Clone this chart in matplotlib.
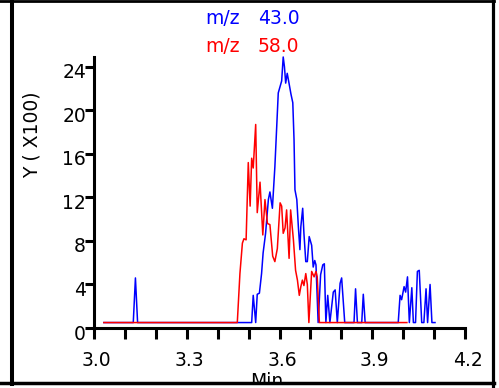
import matplotlib
matplotlib.use("Agg")
import matplotlib.pyplot as plt
from matplotlib.lines import Line2D
import matplotlib.transforms as mtransforms

# ---- data ----
blue_t = [3.032, 3.127, 3.134, 3.141, 3.510, 3.515, 3.523, 3.528, 3.535, 3.542,
          3.547, 3.555, 3.564, 3.569, 3.577, 3.585, 3.591, 3.596, 3.602, 3.607,
          3.612, 3.616, 3.620, 3.625, 3.632, 3.637, 3.643, 3.647, 3.650, 3.656,
          3.661, 3.666, 3.669, 3.675, 3.679, 3.685, 3.690, 3.696, 3.704, 3.709,
          3.714, 3.718, 3.725, 3.733, 3.740, 3.745, 3.750, 3.756, 3.763, 3.774,
          3.780, 3.787, 3.796, 3.801, 3.811, 3.841, 3.846, 3.852, 3.866, 3.871,
          3.877, 3.984, 3.990, 3.995, 4.003, 4.008, 4.014, 4.020, 4.028, 4.033,
          4.040, 4.046, 4.052, 4.060, 4.067, 4.074, 4.079, 4.087, 4.093, 4.103]
blue_y = [0.5, 0.5, 4.6, 0.5, 0.5, 3.0, 0.5, 3.1, 3.2, 5.0,
          6.9, 8.7, 11.8, 12.5, 11.0, 14.8, 18.5, 21.6, 22.2, 22.7,
          24.9, 24.0, 22.5, 23.4, 22.3, 21.5, 20.7, 17.3, 12.7, 11.8,
          9.3, 7.2, 9.3, 11.0, 8.7, 6.1, 6.1, 8.4, 7.6, 5.6,
          6.2, 5.8, 0.5, 4.9, 5.8, 5.9, 0.5, 3.0, 0.5, 3.3,
          3.5, 0.5, 4.1, 4.6, 0.5, 0.5, 3.6, 0.5, 0.5, 3.1,
          0.5, 0.5, 3.0, 2.6, 3.8, 3.3, 4.7, 0.5, 3.7, 0.5,
          0.5, 5.2, 5.3, 0.5, 0.5, 3.6, 0.5, 4.0, 0.5, 0.5]

red_t = [3.032, 3.4635, 3.472, 3.480, 3.485, 3.492, 3.499, 3.505, 3.510, 3.515,
         3.523, 3.528, 3.537, 3.546, 3.553, 3.561, 3.569, 3.578, 3.585, 3.593,
         3.602, 3.607, 3.612, 3.618, 3.623, 3.631, 3.636, 3.645, 3.652, 3.658,
         3.664, 3.669, 3.674, 3.679, 3.685, 3.690, 3.695, 3.704, 3.712, 3.718,
         3.722, 3.729, 4.012]
red_y = [0.5, 0.5, 5.0, 7.8, 8.2, 8.1, 15.2, 11.2, 15.6, 14.7,
         18.7, 10.6, 13.4, 8.55, 11.8, 9.6, 9.5, 6.6, 6.1, 7.3,
         11.5, 11.2, 8.7, 9.2, 10.85, 6.4, 10.85, 8.1, 5.3, 4.4,
         3.0, 3.8, 4.4, 3.9, 5.0, 4.0, 0.5, 5.2, 4.7, 5.2,
         4.7, 0.5, 0.5]

x_ticks = [3.0, 3.1, 3.2, 3.3, 3.4, 3.5, 3.6, 3.7, 3.8, 3.9, 4.0, 4.1, 4.2]
x_tick_labels = ["3.0", "", "", "3.3", "", "", "3.6", "", "", "3.9", "", "", "4.2"]
y_ticks = [0, 4, 8, 12, 16, 20, 24]
y_tick_labels = ["0", "4", "8", "12", "16", "20", "24"]
label_blue = ("m/z", "43.0")
label_red = ("m/z", "58.0")

BLUE = "#0000FF"
RED = "#FF0000"

W, H = 499, 388
fig = plt.figure(figsize=(W / 100, H / 100), dpi=100)
plt.rcParams["font.family"] = ["DejaVu Sans"]
FS = 13.5

def fx(px):
    return px / W

def fy(py):
    return 1 - py / H

ax = fig.add_axes([fx(94), fy(328), fx(465) - fx(94), fy(57) - fy(328)])
ax.plot(blue_t, blue_y, color=BLUE, lw=1.1, clip_on=False)
ax.plot(red_t, red_y, color=RED, lw=1.1, clip_on=False)
ax.set_xlim(3.0, 4.2)
ax.set_ylim(0, 24.9)

for s in ["top", "right"]:
    ax.spines[s].set_visible(False)
for s in ["left", "bottom"]:
    ax.spines[s].set_linewidth(2.2)
    ax.spines[s].set_color("black")

ax.set_xticks(x_ticks)
ax.set_xticklabels(x_tick_labels, fontsize=FS)
ax.set_yticks(y_ticks)
ax.set_yticklabels(y_tick_labels, fontsize=FS)
ax.tick_params(axis="x", direction="out", length=8, width=2.2, pad=8.5)
ax.tick_params(axis="y", direction="out", length=6.5, width=2.2, pad=-0.8)

off_y = mtransforms.ScaledTranslation(0, -4 / 100, fig.dpi_scale_trans)
for lab in ax.get_yticklabels():
    lab.set_transform(lab.get_transform() + off_y)
off_x = mtransforms.ScaledTranslation(2.5 / 100, 0, fig.dpi_scale_trans)
for lab in ax.get_xticklabels():
    lab.set_transform(lab.get_transform() + off_x)

# axis titles
fig.text(fx(32), fy(135), "Y ( X100)", rotation=90, ha="center", va="center", fontsize=FS)
fig.text(fx(266.5), fy(372), "Min", ha="center", va="top", fontsize=FS, zorder=1)

# legend-like labels
fig.text(fx(205), fy(24), label_blue[0], color=BLUE, ha="left", va="baseline", fontsize=FS)
fig.text(fx(258), fy(24), label_blue[1], color=BLUE, ha="left", va="baseline", fontsize=FS)
fig.text(fx(205), fy(52), label_red[0], color=RED, ha="left", va="baseline", fontsize=FS)
fig.text(fx(258), fy(52), label_red[1], color=RED, ha="left", va="baseline", fontsize=FS)

# frame
tf = fig.transFigure
fig.add_artist(Line2D([fx(12), fx(12)], [fy(0), fy(384)], transform=tf, color="black", lw=2.9, zorder=10))
fig.add_artist(Line2D([fx(0), fx(494)], [fy(1), fy(1)], transform=tf, color="black", lw=2.0, zorder=10))
fig.add_artist(Line2D([fx(492.5), fx(492.5)], [fy(0), fy(388)], transform=tf, color="black", lw=2.3, zorder=10))
fig.add_artist(Line2D([fx(0), fx(494)], [fy(383.3), fy(383.3)], transform=tf, color="black", lw=2.5, zorder=10))
fig.add_artist(plt.Rectangle((fx(0), fy(388)), fx(499), fy(385) - fy(388), transform=tf,
                             color="white", zorder=9))

fig.savefig("out.png", dpi=100)
